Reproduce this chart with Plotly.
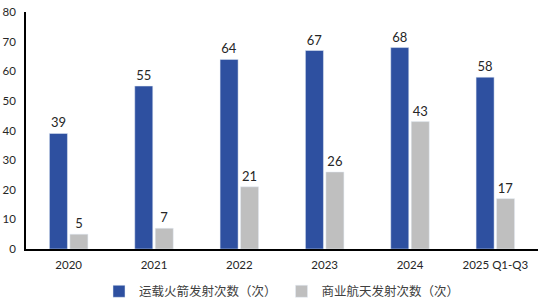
import plotly.graph_objects as go

categories = ["2020", "2021", "2022", "2023", "2024", "2025 Q1-Q3"]
launches = [39, 55, 64, 67, 68, 58]
commercial = [5, 7, 21, 26, 43, 17]
names = ["运载火箭发射次数（次）", "商业航天发射次数（次）"]

fig = go.Figure()
fig.add_trace(go.Bar(x=categories, y=launches, name=names[0], marker_color="#2E50A0",
                     text=launches, textposition="outside", cliponaxis=False,
                     textfont=dict(size=13, color="#262626", family="Lato")))
fig.add_trace(go.Bar(x=categories, y=commercial, name=names[1], marker_color="#BFBFBF",
                     text=commercial, textposition="outside", cliponaxis=False,
                     textfont=dict(size=13, color="#262626", family="Lato")))

fig.update_layout(
    width=554, height=308,
    margin=dict(l=26, r=16, t=12, b=59, autoexpand=False),
    paper_bgcolor="white", plot_bgcolor="white",
    barmode="group", bargap=0.52, bargroupgap=0.12,
    font=dict(family="Lato, Noto Sans CJK SC", size=11, color="#262626"),
    showlegend=True,
    legend=dict(orientation="h", x=0.5, xanchor="center", y=-0.18, yanchor="middle",
                font=dict(family="Noto Sans CJK SC", size=12.5, color="#404040"),
                itemwidth=30, traceorder="normal"),
)
fig.update_xaxes(showline=True, linecolor="black", linewidth=1.5,
                 ticks="outside", ticklen=4, tickcolor="rgba(0,0,0,0)",
                 tickfont=dict(size=11.5, color="#262626"), showgrid=False)
fig.update_yaxes(range=[0, 80], dtick=10, showline=True, linecolor="black", linewidth=1.5,
                 showgrid=False, zeroline=False, ticks="", ticklabelstandoff=6,
                 tickfont=dict(size=11.5, color="#262626"))

fig.write_html("out.html")
